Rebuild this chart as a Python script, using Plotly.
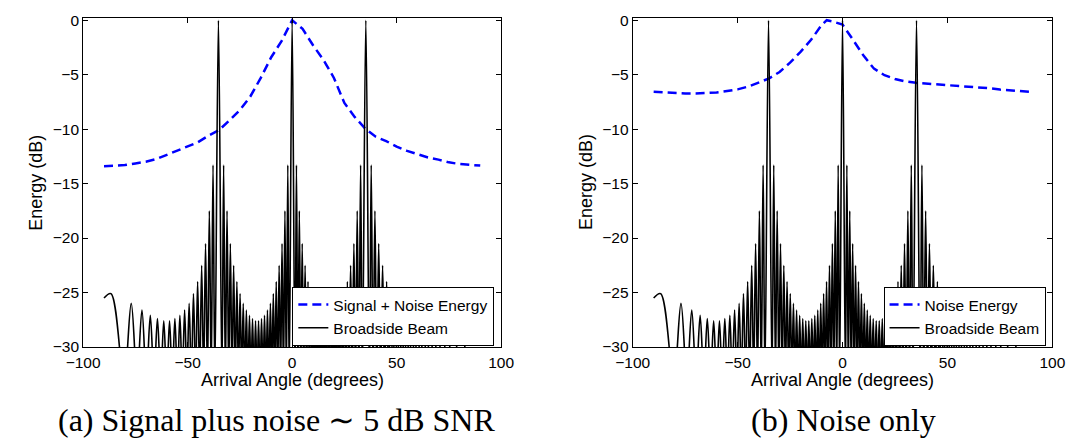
import plotly.graph_objects as go

W, H = 1078, 447

# ---------------------------------------------------------------------------
# Broadside beam pattern of the array: lobe peaks (deg, dB) from left to right,
# and the pattern nulls lying between consecutive peaks.
# ---------------------------------------------------------------------------
beam_peak_deg = [
    -86.69, -76.98, -71.85, -67.85, -64.44, -61.41, -58.65, -56.09, -53.70,
    -51.43, -49.27, -47.20, -45.21, -43.28, -41.42, -39.61, -37.84,
    -35.26,
    -32.77, -31.14, -29.55, -27.98, -26.43, -24.90, -23.39, -21.89, -20.41,
    -18.95, -17.50, -16.06, -14.63, -13.21, -11.80, -10.39, -9.00, -7.60,
    -6.21, -4.83, -3.45, -2.07,
    0.00,
    2.07, 3.45, 4.83, 6.21, 7.60, 9.00, 10.39, 11.80, 13.21, 14.63, 16.06,
    17.50, 18.95, 20.41, 21.89, 23.39, 24.90, 26.43, 27.98, 29.55, 31.14,
    32.77,
    35.26,
    37.84, 39.61, 41.42, 43.28, 45.21, 47.20, 49.27, 51.43, 53.70, 56.09,
    58.65, 61.41, 64.44, 67.85, 71.85, 76.98, 86.69,
]
beam_peak_db = [
    -25.1, -26.0, -26.6, -27.1, -27.4, -27.6, -27.6, -27.4, -27.1,
    -26.6, -26.0, -25.1, -24.0, -22.5, -20.5, -17.5, -13.3,
    0.0,
    -13.3, -17.5, -20.5, -22.5, -24.0, -25.1, -26.0, -26.6, -27.1,
    -27.4, -27.6, -27.6, -27.4, -27.1, -26.6, -26.0, -25.1, -24.0,
    -22.5, -20.5, -17.5, -13.3,
    0.0,
    -13.3, -17.5, -20.5, -22.5, -24.0, -25.1, -26.0, -26.6, -27.1, -27.4,
    -27.6, -27.6, -27.4, -27.1, -26.6, -26.0, -25.1, -24.0, -22.5, -20.5,
    -17.5, -13.3,
    0.0,
    -13.3, -17.5, -20.5, -22.5, -24.0, -25.1, -26.0, -26.6, -27.1, -27.4,
    -27.6, -27.6, -27.4, -27.1, -26.6, -26.0, -25.1,
]
beam_null_deg = [
    -80.51, -74.21, -69.75, -66.08, -62.88, -60.00, -57.35, -54.88, -52.55,
    -50.34, -48.22, -46.19, -44.24, -42.34, -40.51, -38.72, -36.97,
    -33.59, -31.95, -30.34, -28.76, -27.20, -25.66, -24.14, -22.64, -21.15,
    -19.68, -18.22, -16.78, -15.34, -13.92, -12.50, -11.10, -9.69, -8.30,
    -6.91, -5.52, -4.14, -2.76, -1.38,
    1.38, 2.76, 4.14, 5.52, 6.91, 8.30, 9.69, 11.10, 12.50, 13.92, 15.34,
    16.78, 18.22, 19.68, 21.15, 22.64, 24.14, 25.66, 27.20, 28.76, 30.34,
    31.95, 33.59,
    36.97, 38.72, 40.51, 42.34, 44.24, 46.19, 48.22, 50.34, 52.55, 54.88,
    57.35, 60.00, 62.88, 66.08, 69.75, 74.21, 80.51,
]
beam_edge_deg = [-90.0, 90.0]
beam_edge_db = [-25.5, -25.5]
NULL_DB = -33.0  # nulls fall below the -30 dB floor of the axes

# Signal + noise energy scan (panel a)
sn_deg = [-90, -85, -80, -75, -70, -65, -60, -55, -50, -45, -40, -35, -30,
          -25, -20, -15, -10, -5, 0, 5, 10, 15, 20, 25, 30, 35, 40, 45, 50,
          55, 60, 65, 70, 75, 80, 85, 90]
sn_db = [-13.4, -13.35, -13.3, -13.15, -13.0, -12.75, -12.35, -12.0, -11.6,
         -11.2, -10.6, -10.1, -9.2, -8.25, -7.0, -5.3, -3.4, -1.9, 0.0,
         -0.8, -2.3, -3.65, -5.3, -7.6, -8.9, -9.95, -10.7, -11.1, -11.6,
         -12.0, -12.3, -12.6, -12.8, -13.05, -13.2, -13.3, -13.35]

# Noise-only energy scan (panel b)
n_deg = [-90, -85, -80, -75, -70, -65, -60, -55, -50, -45, -40, -35, -30,
         -25, -20, -15, -10, -7.5, -5, -2.5, 0, 5, 10, 15, 20, 25, 30, 35,
         40, 45, 50, 55, 60, 65, 70, 75, 80, 85, 90]
n_db = [-6.57, -6.63, -6.68, -6.72, -6.72, -6.7, -6.63, -6.5, -6.35, -6.1,
        -5.75, -5.35, -4.75, -3.9, -2.9, -1.8, -0.45, 0.0, -0.1, -0.25,
        -0.4, -1.8, -3.25, -4.45, -5.05, -5.4, -5.62, -5.75, -5.82, -5.88,
        -5.95, -6.02, -6.08, -6.15, -6.25, -6.37, -6.45, -6.52, -6.58]

x_ticks = [-100, -50, 0, 50, 100]
y_ticks = [-30, -25, -20, -15, -10, -5, 0]

SANS = "Liberation Sans, Arial, Helvetica, sans-serif"
SERIF = "Liberation Serif, Times New Roman, serif"


def beam_path():
    xs = [beam_edge_deg[0]]
    ys = [beam_edge_db[0]]
    for i, (a, v) in enumerate(zip(beam_peak_deg, beam_peak_db)):
        xs.append(a)
        ys.append(v)
        if i < len(beam_null_deg):
            xs.append(beam_null_deg[i])
            ys.append(NULL_DB)
    xs.append(beam_edge_deg[1])
    ys.append(beam_edge_db[1])
    return xs, ys


bx, by = beam_path()

fig = go.Figure()

panels = [
    ("x", "y", "legend", sn_deg, sn_db, "Signal + Noise Energy"),
    ("x2", "y2", "legend2", n_deg, n_db, "Noise Energy"),
]
for xa, ya, lg, ex, ey, name in panels:
    fig.add_trace(go.Scatter(
        x=ex, y=ey, mode="lines", name=name, xaxis=xa, yaxis=ya, legend=lg,
        line=dict(color="#0000ff", width=2.5, dash="9px,5px"),
    ))
    fig.add_trace(go.Scatter(
        x=bx, y=by, mode="lines", name="Broadside Beam", xaxis=xa, yaxis=ya,
        legend=lg, line=dict(color="black", width=1.6, shape="spline",
                             smoothing=1.0),
    ))

axis_common = dict(
    showgrid=False, zeroline=False, showline=True, linecolor="black",
    linewidth=1, mirror="ticks", ticks="inside", ticklen=5, tickwidth=1,
    tickcolor="black", tickfont=dict(family=SANS, size=15.5, color="black"),
)

y0 = 1 - 352 / H
y1 = 1 - 12.3 / H
legend_common = dict(
    xanchor="right", yanchor="bottom", bgcolor="white", bordercolor="black",
    borderwidth=1, font=dict(family=SANS, size=15.5, color="black"),
    itemwidth=30, tracegroupgap=0,
)
fig.update_layout(
    width=W, height=H, autosize=False,
    margin=dict(l=0, r=0, t=0, b=0),
    paper_bgcolor="white", plot_bgcolor="white",
    xaxis=dict(domain=[68 / W, 498 / W], range=[-100, 100], anchor="y",
               tickvals=x_ticks, ticklabelstandoff=1, **axis_common),
    yaxis=dict(domain=[y0, y1], range=[-30, 0.21], anchor="x",
               tickvals=y_ticks, **axis_common),
    xaxis2=dict(domain=[633.3 / W, 1065 / W], range=[-100, 100], anchor="y2",
                tickvals=x_ticks, ticklabelstandoff=1, **axis_common),
    yaxis2=dict(domain=[y0, y1], range=[-30, 0.21], anchor="x2",
                tickvals=y_ticks, **axis_common),
    legend=dict(x=491 / W, y=1 - 351 / H, **legend_common),
    legend2=dict(x=1058 / W, y=1 - 351 / H, **legend_common),
    showlegend=True,
)

title_font = dict(family=SANS, size=18, color="black")
annotations = [
    dict(text="Energy (dB)", x=20 / W, y=1 - 182 / H, textangle=-90,
         font=title_font),
    dict(text="Energy (dB)", x=586 / W, y=1 - 182 / H, textangle=-90,
         font=title_font),
    dict(text="Arrival Angle (degrees)", x=283 / W, y=1 - 386 / H,
         font=title_font),
    dict(text="Arrival Angle (degrees)", x=849 / W, y=1 - 386 / H,
         font=title_font),
    dict(text="(a) Signal plus noise \u223c 5 dB SNR", x=267 / W,
         y=1 - 427 / H, font=dict(family=SERIF, size=32, color="black")),
    dict(text="(b) Noise only", x=850 / W, y=1 - 427 / H,
         font=dict(family=SERIF, size=32, color="black")),
]
for a in annotations:
    a.update(xref="paper", yref="paper", xanchor="center", yanchor="middle",
             showarrow=False)
fig.update_layout(annotations=annotations)

fig.write_html("out.html")
